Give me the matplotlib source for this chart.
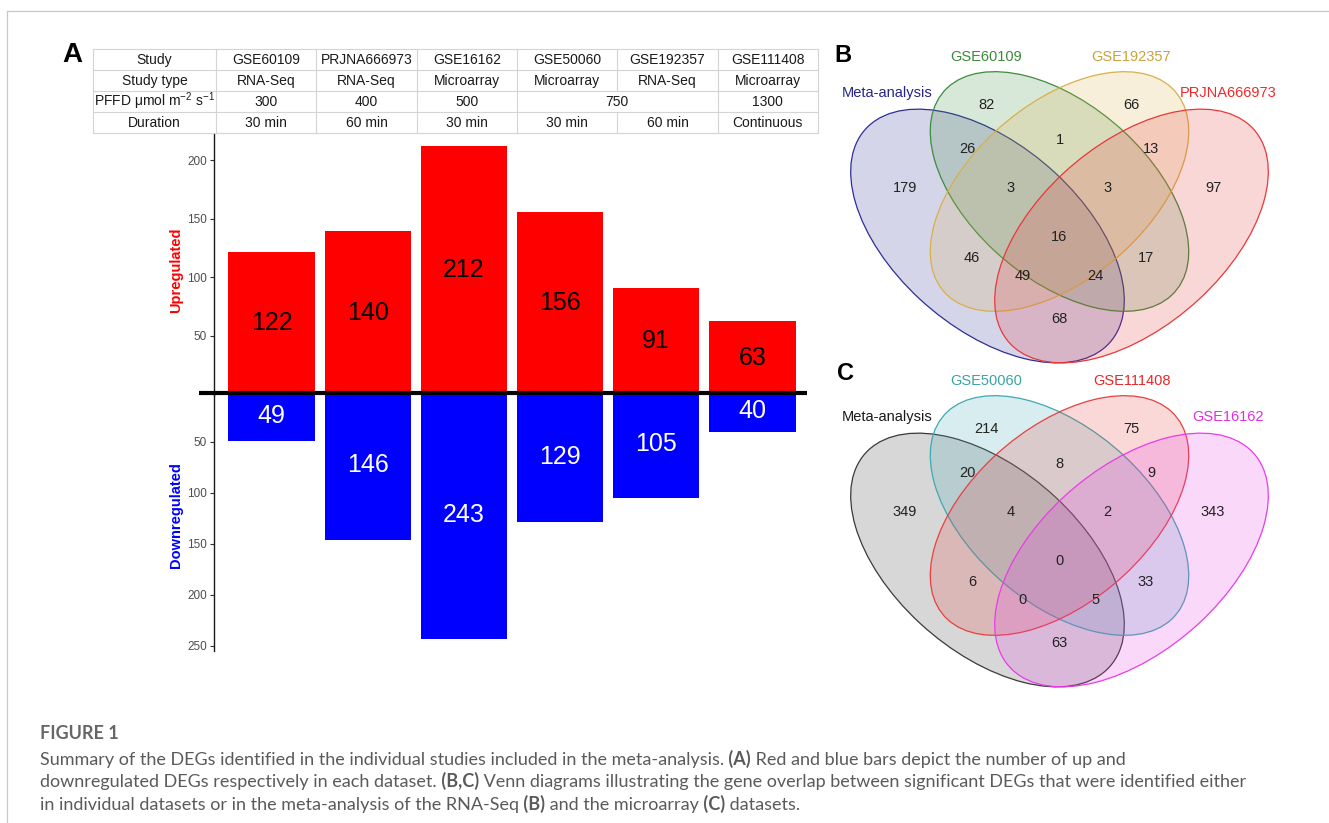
import matplotlib
matplotlib.use('Agg')
import matplotlib.pyplot as plt
from matplotlib.patches import Ellipse
from matplotlib.colors import to_rgba

plt.rcParams['font.family'] = ['Liberation Sans', 'DejaVu Sans']
plt.rcParams['mathtext.fontset'] = 'custom'
plt.rcParams['mathtext.rm'] = 'Liberation Sans'
plt.rcParams['mathtext.it'] = 'Liberation Sans'

W, H = 1329, 823

# ---- panel A: study table + up/down DEG counts
studies = ['GSE60109', 'PRJNA666973', 'GSE16162', 'GSE50060', 'GSE192357', 'GSE111408']
study_types = ['RNA-Seq', 'RNA-Seq', 'Microarray', 'Microarray', 'RNA-Seq', 'Microarray']
pffd = ['300', '400', '500', '750', '750', '1300']
durations = ['30 min', '60 min', '30 min', '30 min', '60 min', 'Continuous']
row_names = ['Study', 'Study type', r'PFFD μmol m$^{-2}$ s$^{-1}$', 'Duration']
upregulated = [122, 140, 212, 156, 91, 63]
downregulated = [49, 146, 243, 129, 105, 40]

# ---- panels B, C: 4-way venn counts (region order follows venn_regions below)
venn_b_sets = ['Meta-analysis', 'GSE60109', 'GSE192357', 'PRJNA666973']
venn_b_counts = [82, 66, 26, 1, 13, 179, 3, 3, 97, 16, 46, 17, 49, 24, 68]
venn_c_sets = ['Meta-analysis', 'GSE50060', 'GSE111408', 'GSE16162']
venn_c_counts = [214, 75, 20, 8, 9, 349, 4, 2, 343, 0, 6, 33, 0, 5, 63]

caption_title = 'FIGURE 1'
caption_lines = [
    [('Summary of the DEGs identified in the individual studies included in the meta-analysis.', False),
     (' (A)', True), (' Red and blue bars depict the number of up and', False)],
    [('downregulated DEGs respectively in each dataset.', False), (' (B,C)', True),
     (' Venn diagrams illustrating the gene overlap between significant DEGs that were identified either', False)],
    [('in individual datasets or in the meta-analysis of the RNA-Seq', False), (' (B)', True),
     (' and the microarray', False), (' (C)', True), (' datasets.', False)],
]


def rect(left, top, right, bottom):
    return [left / W, 1 - bottom / H, (right - left) / W, (bottom - top) / H]


fig = plt.figure(figsize=(W / 100, H / 100), dpi=100)

# bars
xs = list(range(1, len(studies) + 1))
ax_up = fig.add_axes(rect(214, 134, 810, 394.5))
ax_dn = fig.add_axes(rect(214, 391, 810, 651))
for ax, vals, col, txtcol in [(ax_up, upregulated, '#ff0000', 'black'),
                              (ax_dn, downregulated, '#0000ff', 'white')]:
    ax.set_facecolor('none')
    ax.bar(xs, vals, width=0.9, color=col)
    for x, v in zip(xs, vals):
        ax.text(x, v / 2, str(v), ha='center', va='center', fontsize=18, color=txtcol)
    ax.set_xlim(0.4, 6.6)
    ax.set_xticks([])
    for s in ['top', 'right', 'bottom']:
        ax.spines[s].set_visible(False)
    ax.spines['left'].set_color('#1a1a1a')
    ax.spines['left'].set_linewidth(1.0)
    ax.tick_params(axis='y', length=3, width=0.8, color='#333333',
                   labelcolor='#4d4d4d', labelsize=8.5, pad=2)
ax_up.set_ylim(0, 222.6)
ax_up.set_yticks([50, 100, 150, 200])
ax_dn.set_ylim(255.2, 0)
ax_dn.set_yticks([50, 100, 150, 200, 250])

# venn layout (unit square, VennDiagram-style quad layout)
venn_shapes = [((0.35, 0.47), 0.70, 0.40, -45),
               ((0.50, 0.57), 0.66, 0.38, -45),
               ((0.50, 0.57), 0.66, 0.38, 45),
               ((0.65, 0.47), 0.70, 0.40, 45)]
venn_regions = [(0.348, 0.764), (0.650, 0.764), (0.309, 0.666), (0.500, 0.686), (0.691, 0.666),
                (0.178, 0.577), (0.399, 0.577), (0.600, 0.577), (0.820, 0.577), (0.500, 0.468),
                (0.318, 0.420), (0.680, 0.420), (0.423, 0.380), (0.574, 0.380), (0.500, 0.283)]
venn_name_pos = [(0.140, 0.791), (0.348, 0.873), (0.650, 0.873), (0.851, 0.791)]


def venn4(top, names, counts, colors, label_colors):
    ax = fig.add_axes(rect(838.7, top, 1280.3, top + 320.4))
    ax.set_xlim(0.04, 0.96)
    ax.set_ylim(0.18, 0.9)
    ax.axis('off')
    for (c, w, h, ang), col in zip(venn_shapes, colors):
        ax.add_patch(Ellipse(c, w, h, angle=ang, facecolor=to_rgba(col, 0.2),
                             edgecolor=col, linewidth=0.9, clip_on=False))
    for (x, y), n in zip(venn_regions, counts):
        ax.text(x, y, str(n), ha='center', va='center', fontsize=10.5, color='#222222')
    for (x, y), name, col in zip(venn_name_pos, names, label_colors):
        ax.text(x, y, name, ha='center', va='center', fontsize=10.5, color=col)


venn4(44.65, venn_b_sets, venn_b_counts,
      ['#2e2e96', '#3d8c3d', '#d8b04a', '#e8383a'],
      ['#25258a', '#3a8a3a', '#c9a13e', '#f02a2a'])
venn4(368.65, venn_c_sets, venn_c_counts,
      ['#3a3a3a', '#40a8b0', '#e84040', '#e83ce8'],
      ['#1a1a1a', '#3aa3a3', '#e82828', '#e02ee0'])

# overlay in pixel coordinates: frame, table, labels, caption
page = fig.add_axes([0, 0, 1, 1])
page.set_xlim(0, W)
page.set_ylim(H, 0)
page.axis('off')
page.set_facecolor('none')

page.plot([7, W], [11, 11], color='#c8c8c8', lw=0.9)
page.plot([7, 7], [11, H], color='#c8c8c8', lw=0.9)

# table
col_edges = [93, 216] + [216 + 100.33 * (i + 1) for i in range(len(studies))]
row_edges = [49, 70, 91, 112, 133]
table_rows = [studies, study_types, pffd, durations]
merge_row = 2
grid = '#d4d4d4'
for y in row_edges:
    page.plot([col_edges[0], col_edges[-1]], [y, y], color=grid, lw=0.8)
for r, (name, cells) in enumerate(zip(row_names, table_rows)):
    y0, y1 = row_edges[r], row_edges[r + 1]
    yc = (y0 + y1) / 2
    page.text((col_edges[0] + col_edges[1]) / 2, yc, name, ha='center', va='center',
              fontsize=10, color='#1a1a1a')
    # group equal neighbouring cells in the merged row
    groups = []
    for i, c in enumerate(cells):
        if r == merge_row and groups and groups[-1][0] == c:
            groups[-1][2] = i
        else:
            groups.append([c, i, i])
    page.plot([col_edges[0]] * 2, [y0, y1], color=grid, lw=0.8)
    page.plot([col_edges[1]] * 2, [y0, y1], color=grid, lw=0.8)
    for c, i0, i1 in groups:
        xl, xr = col_edges[i0 + 1], col_edges[i1 + 2]
        page.text((xl + xr) / 2, yc, c, ha='center', va='center', fontsize=10, color='#1a1a1a')
        page.plot([xr, xr], [y0, y1], color=grid, lw=0.8)

# zero line between up and down panels
page.plot([199, 807], [393, 393], color='black', lw=3.0, solid_capstyle='butt')

page.text(176, 270.7, 'Upregulated', rotation=90, ha='center', va='center',
          fontsize=10.5, fontweight='bold', color='#ff0000')
page.text(176, 515, 'Downregulated', rotation=90, ha='center', va='center',
          fontsize=10.5, fontweight='bold', color='#0000ff')

page.text(72, 55, 'A', ha='center', va='center', fontsize=20, fontweight='bold')
page.text(843, 55, 'B', ha='center', va='center', fontsize=17, fontweight='bold')
page.text(845, 373, 'C', ha='center', va='center', fontsize=17, fontweight='bold')

# caption
cap_kw = dict(family=['Lato', 'Liberation Sans'], color='#5a5a5a', fontsize=13)
page.text(40, 739, caption_title, ha='left', va='baseline', fontweight='bold',
          **{**cap_kw, 'color': '#666666'})
for k, parts in enumerate(caption_lines):
    prev = None
    for txt, bold in parts:
        wt = 'bold' if bold else 'normal'
        if prev is None:
            prev = page.text(40, 768 + 22.5 * k, txt, ha='left', va='bottom', fontweight=wt, **cap_kw)
        else:
            prev = page.annotate(txt, xy=(1, 0), xycoords=prev, ha='left', va='bottom',
                                 fontweight=wt, **cap_kw)

fig.savefig('out.png', dpi=100)
